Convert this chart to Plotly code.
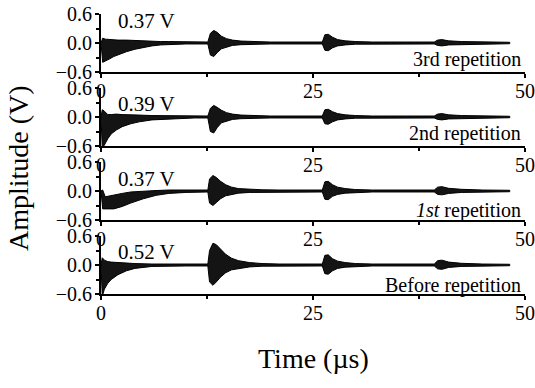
import plotly.graph_objects as go

# ---- envelope data (time in µs, amplitude in V) ----
# Panel 1: 3rd repetition
t1 = [0, 0.2, 0.5, 1, 1.5, 2, 3, 4, 5, 6, 7, 8, 10, 12.6, 12.9, 13.3, 13.7, 14.2, 14.8, 15.5, 16.5, 18, 20, 26.1,
      26.4, 26.8, 27.3, 27.9, 28.8, 30, 32, 39.3, 39.7, 40.2, 41, 42.5, 45, 48.2]
u1 = [0, 0.10, 0.08, 0.07, 0.07, 0.06, 0.06, 0.05, 0.04, 0.04, 0.03, 0.03, 0.02, 0.02, 0.20, 0.26, 0.22, 0.14, 0.09, 0.06, 0.04, 0.03, 0.02, 0.02,
      0.17, 0.18, 0.12, 0.07, 0.045, 0.03, 0.02, 0.02, 0.06, 0.07, 0.045, 0.03, 0.02, 0.015]
l1 = [0, -0.40, -0.38, -0.33, -0.28, -0.24, -0.18, -0.13, -0.09, -0.06, -0.04, -0.03, -0.02, -0.02, -0.25, -0.28, -0.20, -0.12, -0.08, -0.05, -0.035, -0.025, -0.02, -0.02,
      -0.15, -0.16, -0.10, -0.06, -0.04, -0.025, -0.02, -0.02, -0.05, -0.06, -0.04, -0.03, -0.02, -0.015]

# Panel 2: 2nd repetition
t2 = [0, 0.15, 0.4, 0.8, 1.2, 1.8, 2.5, 3.5, 4.5, 6, 7.5, 9, 11, 12.6, 12.9, 13.3, 13.7, 14.2, 14.8, 15.5, 16.5, 18, 20, 26.1,
      26.4, 26.8, 27.3, 27.9, 28.8, 30, 32, 39.3, 39.7, 40.2, 41, 42.5, 45, 48.2]
u2 = [0, 0.15, 0.12, 0.05, 0.05, 0.06, 0.05, 0.05, 0.04, 0.03, 0.03, 0.02, 0.02, 0.02, 0.18, 0.24, 0.20, 0.14, 0.09, 0.06, 0.04, 0.03, 0.02, 0.02,
      0.15, 0.16, 0.11, 0.07, 0.045, 0.03, 0.02, 0.02, 0.06, 0.07, 0.045, 0.03, 0.02, 0.015]
l2 = [0, -0.65, -0.58, -0.45, -0.35, -0.27, -0.20, -0.14, -0.10, -0.06, -0.04, -0.03, -0.02, -0.02, -0.30, -0.33, -0.22, -0.12, -0.08, -0.05, -0.035, -0.025, -0.02, -0.02,
      -0.14, -0.15, -0.10, -0.06, -0.04, -0.025, -0.02, -0.02, -0.05, -0.06, -0.04, -0.03, -0.02, -0.015]

# Panel 3: 1st repetition
t3 = [0, 0.2, 0.5, 1, 1.5, 2.5, 3.5, 5, 6.5, 8, 10, 12.6, 12.8, 13.2, 13.6, 14.1, 14.7, 15.4, 16.2, 17.5, 19, 21, 26.1,
      26.4, 26.8, 27.3, 27.9, 28.8, 30, 32, 39.3, 39.7, 40.2, 41, 42.5, 45, 48.2]
u3 = [0, 0.02, -0.12, -0.10, -0.08, -0.05, -0.02, 0.0, 0.01, 0.02, 0.02, 0.02, 0.25, 0.32, 0.28, 0.20, 0.13, 0.08, 0.05, 0.035, 0.025, 0.02, 0.02,
      0.19, 0.20, 0.13, 0.08, 0.05, 0.03, 0.02, 0.02, 0.08, 0.09, 0.055, 0.035, 0.02, 0.015]
l3 = [0, -0.37, -0.37, -0.37, -0.37, -0.32, -0.25, -0.16, -0.09, -0.05, -0.03, -0.02, -0.25, -0.30, -0.24, -0.16, -0.10, -0.07, -0.045, -0.03, -0.02, -0.02, -0.02,
      -0.17, -0.18, -0.11, -0.07, -0.045, -0.03, -0.02, -0.02, -0.07, -0.08, -0.05, -0.03, -0.02, -0.015]

# Panel 4: before repetition
t4 = [0, 0.15, 0.4, 0.8, 1.2, 2, 3, 4, 6, 8, 10, 12.6, 12.8, 13.2, 13.6, 14.1, 14.7, 15.4, 16.2, 17.5, 19, 21, 26.1,
      26.4, 26.8, 27.3, 27.9, 28.8, 30, 32, 39.3, 39.7, 40.2, 41, 42.5, 45, 48.2]
u4 = [0, 0.15, 0.10, 0.07, 0.06, 0.05, 0.04, 0.03, 0.02, 0.02, 0.02, 0.02, 0.30, 0.45, 0.42, 0.32, 0.22, 0.14, 0.09, 0.05, 0.03, 0.02, 0.02,
      0.20, 0.21, 0.13, 0.08, 0.05, 0.03, 0.02, 0.02, 0.09, 0.10, 0.06, 0.035, 0.02, 0.015]
l4 = [0, -0.65, -0.50, -0.38, -0.30, -0.20, -0.12, -0.07, -0.03, -0.02, -0.02, -0.02, -0.35, -0.42, -0.35, -0.25, -0.16, -0.10, -0.07, -0.04, -0.025, -0.02, -0.02,
      -0.18, -0.19, -0.12, -0.07, -0.045, -0.03, -0.02, -0.02, -0.08, -0.09, -0.05, -0.03, -0.02, -0.015]

amp_labels = ["0.37 V", "0.39 V", "0.37 V", "0.52 V"]
rep_labels = ["3rd repetition", "2nd repetition", "<i>1st</i> repetition", "Before repetition"]
x_ticks = [0, 25, 50]
y_ticks = [-0.6, 0.0, 0.6]

panels = [(t1, u1, l1), (t2, u2, l2), (t3, u3, l3), (t4, u4, l4)]

H = 388
tops = [14, 88, 162, 236]
ph = 58
FONT = "Liberation Serif"

fig = go.Figure()
for i, (t, u, l) in enumerate(panels):
    n = i + 1
    xs = list(t) + list(reversed(t)) + [t[0]]
    ys = list(u) + list(reversed(l)) + [u[0]]
    fig.add_trace(go.Scatter(x=xs, y=ys, mode="lines", fill="toself",
                             fillcolor="rgba(0,0,0,0.92)", line=dict(color="black", width=1),
                             xaxis=f"x{n}", yaxis=f"y{n}", showlegend=False, hoverinfo="skip"))
    top = tops[i]
    bot = top + ph
    ydom = [1 - bot / H, 1 - top / H]
    axstyle = dict(showline=True, linecolor="black", linewidth=2, ticks="outside",
                   tickcolor="black", ticklen=4, tickwidth=1.5, showgrid=False, zeroline=False,
                   mirror=False, tickfont=dict(family=FONT, size=20, color="black"), automargin=False)
    fig.layout[f"xaxis{n}"] = dict(domain=[101 / 535, 525 / 535], range=[0, 50], tickvals=x_ticks,
                                   anchor=f"y{n}", ticklabelstandoff=-4,
                                   minor=dict(tickvals=[12.5, 37.5], ticks="outside", ticklen=3, tickcolor="black"),
                                   **axstyle)
    fig.layout[f"yaxis{n}"] = dict(domain=ydom, range=[-0.6, 0.6], tickvals=y_ticks, tickformat=".1f",
                                   anchor=f"x{n}", ticklabelstandoff=-1,
                                   minor=dict(tickvals=[-0.3, 0.3], ticks="outside", ticklen=3, tickcolor="black"),
                                   **axstyle)

amp_y = [0.45, 0.27, 0.25, 0.27]
rep_y = [-0.35, -0.35, -0.41, -0.42]
anns = []
for i in range(4):
    n = i + 1
    anns.append(dict(x=5.4, y=amp_y[i], xref=f"x{n}", yref=f"y{n}", text=amp_labels[i], showarrow=False,
                     xanchor="center", yanchor="middle", font=dict(family=FONT, size=21, color="black")))
    anns.append(dict(x=49.8, y=rep_y[i], xref=f"x{n}", yref=f"y{n}", text=rep_labels[i], showarrow=False,
                     xanchor="right", yanchor="middle", font=dict(family=FONT, size=20, color="black")))
anns.append(dict(x=18 / 535, y=1 - 168 / H, xref="paper", yref="paper", text="Amplitude (V)", textangle=-90,
                 showarrow=False, xanchor="center", yanchor="middle", font=dict(family=FONT, size=28, color="black")))
anns.append(dict(x=313 / 535, y=1 - 358 / H, xref="paper", yref="paper", text="Time (µs)",
                 showarrow=False, xanchor="center", yanchor="middle", font=dict(family=FONT, size=28, color="black")))

fig.update_layout(width=535, height=388, margin=dict(l=0, r=0, t=0, b=0),
                  paper_bgcolor="white", plot_bgcolor="white", annotations=anns)
fig.write_html("out.html")
